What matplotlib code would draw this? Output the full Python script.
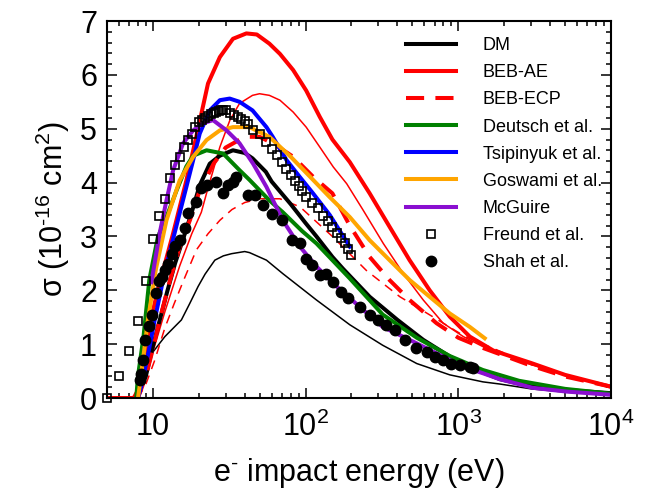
#!/usr/bin/env python3
"""
Electron impact ionisation cross sections: theory curves vs. measurements.
"""

import numpy as np
import matplotlib
matplotlib.use("Agg")
import matplotlib.pyplot as plt
from matplotlib.ticker import LogLocator, MultipleLocator, NullFormatter, FixedLocator, FixedFormatter

plt.rcParams['font.family'] = ['Liberation Sans', 'DejaVu Sans']
plt.rcParams['mathtext.fontset'] = 'custom'
plt.rcParams['mathtext.rm'] = 'Liberation Sans'
plt.rcParams['mathtext.it'] = 'Liberation Sans:italic'

# ---- data (energy in eV, cross section in 1e-16 cm^2) ----
dm_E = [7.8, 9.0, 10, 11, 12.5, 14, 16, 18, 20.3, 23.6, 27.5, 33.5, 40, 45, 55, 60, 80, 100,
        118, 150, 176, 263, 400, 590, 880, 1320, 1870, 3000, 5000, 10000]
dm_s = [0, 0.4, 0.95, 1.4, 2.0, 2.5, 3.0, 3.45, 3.95, 4.35, 4.5, 4.6, 4.55, 4.45, 4.2, 4.02, 3.6, 3.25,
        3.0, 2.62, 2.4, 1.88, 1.45, 1.08, 0.77, 0.52, 0.35, 0.22, 0.15, 0.09]

dm_thin_E = [7.8, 8.0, 8.9, 10, 12, 15.4, 17.5, 19.8, 22, 25.5, 29, 32.8, 40, 43, 55.5, 71, 118,
             195, 320, 535, 880, 1450, 1870, 3000, 5000, 10000]
dm_thin_s = [0, 0.09, 0.58, 0.85, 1.14, 1.45, 1.76, 2.07, 2.3, 2.56, 2.64, 2.68, 2.72, 2.7, 2.56, 2.31,
             1.82, 1.36, 0.98, 0.64, 0.43, 0.3, 0.26, 0.17, 0.11, 0.06]

beb_ae_E = [5, 7.5, 8.2, 9.0, 9.7, 11.0, 12.3, 13.6, 16.6, 19.8, 23, 27.5, 33.5, 41, 48, 58, 68, 83,
            101, 124, 150, 195, 263, 355, 480, 650, 880, 1190, 1700, 3000, 5000, 10000]
beb_ae_s = [0, 0, 0.2, 0.85, 1.45, 2.1, 2.6, 3.06, 4.04, 5.0, 5.84, 6.33, 6.67, 6.77, 6.75, 6.58,
            6.39, 6.09, 5.71, 5.22, 4.8, 4.38, 3.8, 3.18, 2.56, 2.0, 1.51, 1.14, 0.88, 0.65, 0.43, 0.21]

beb_ae_thin_E = [5, 7.5, 8.5, 10, 12, 15, 18, 20.8, 23, 25, 27.5, 32, 37, 45, 50, 58, 68, 83, 101,
                 124, 152, 186, 237, 323, 437, 590, 796, 1080, 1460, 3000, 5000, 10000]
beb_ae_thin_s = [0, 0, 0.3, 0.85, 1.6, 2.45, 3.05, 3.45, 3.9, 4.25, 4.66, 5.16, 5.47, 5.62, 5.65, 5.62,
                 5.53, 5.31, 5.03, 4.66, 4.29, 3.98, 3.5, 2.87, 2.31, 1.82, 1.39, 1.14, 0.95, 0.62,
                 0.43, 0.22]

beb_ecp_E = [8, 9, 10, 11.1, 13, 15, 17.5, 20, 25, 30, 40, 50, 61, 83, 112, 150, 195, 263, 355,
             480, 720, 1000, 1450, 3000, 5000, 10000]
beb_ecp_s = [0, 0.4, 0.9, 1.45, 2.2, 2.8, 3.3, 3.8, 4.35, 4.65, 4.85, 4.85, 4.73, 4.48, 4.11, 3.8,
             3.2, 2.62, 2.19, 1.82, 1.39, 1.12, 0.93, 0.6, 0.4, 0.21]

beb_ecp_thin_E = [8, 9, 10.3, 12, 13.8, 16, 19.3, 23, 27.5, 33, 40, 50, 68, 92, 150, 250, 415, 680,
                  1110, 1800, 3000, 5000, 10000]
beb_ecp_thin_s = [0, 0.25, 0.7, 1.3, 1.75, 2.2, 2.75, 3.05, 3.3, 3.5, 3.63, 3.7, 3.7, 3.55, 3.0, 2.37,
                  1.88, 1.51, 1.14, 0.89, 0.62, 0.42, 0.22]

deutsch_E = [7.8, 8.0, 8.7, 9.5, 10.8, 12.3, 14.3, 16.6, 18.4, 22.5, 28.9, 37, 43, 58, 71, 95, 118,
             195, 320, 535, 880, 1450, 2500, 5000, 10000]
deutsch_s = [0, 0.4, 1.14, 2.2, 2.99, 3.36, 3.85, 4.3, 4.5, 4.6, 4.54, 4.23, 4.05, 3.67, 3.45, 3.1,
             2.87, 2.22, 1.55, 1.12, 0.78, 0.52, 0.32, 0.17, 0.08]

tsipinyuk_E = [8.0, 8.4, 9.3, 10.3, 12, 14.6, 16.6, 18.4, 20.3, 23.6, 27.5, 31.9, 37, 45, 55.5, 61,
               75, 92, 112, 144, 195]
tsipinyuk_s = [0, 0.21, 0.8, 1.45, 2.35, 3.3, 3.92, 4.42, 4.91, 5.34, 5.53, 5.56, 5.5, 5.34, 5.03,
               4.85, 4.42, 4.1, 3.8, 3.4, 2.81]

goswami_E = [8.0, 8.2, 8.8, 9.3, 10.5, 12.3, 15, 18.4, 22.5, 27.5, 33.5, 43, 58, 80, 107, 144, 195,
             263, 355, 481, 650, 880, 1190, 1490]
goswami_s = [0, 0.21, 0.9, 1.45, 2.4, 3.3, 4.04, 4.48, 4.79, 4.97, 5.03, 5.03, 4.85, 4.48, 4.11, 3.73,
             3.36, 2.93, 2.56, 2.19, 1.88, 1.57, 1.32, 1.11]

mcguire_E = [9.8, 11.1, 12.3, 13.6, 15.8, 18.4, 21.3, 24.8, 30.4, 37, 45.4, 55.5, 71, 92, 118, 160,
             227, 320, 481, 720, 1080, 1450, 1870, 3070, 5100, 10000]
mcguire_s = [2.15, 3.06, 3.67, 4.23, 4.73, 4.97, 5.1, 5.16, 4.97, 4.73, 4.35, 3.92, 3.3, 2.81, 2.44,
             2.07, 1.69, 1.32, 1.08, 0.83, 0.58, 0.46, 0.35, 0.19, 0.12, 0.06]

freund_E = [5, 6, 7, 8, 9, 10, 11, 12, 13, 14, 15, 16, 17, 18, 19, 20, 21, 22, 23, 24, 25, 26, 27,
            28, 29, 30, 32, 34, 36, 38, 40, 42, 45, 50, 55, 60, 65, 70, 75, 80, 85, 90, 95, 100,
            110, 120, 130, 140, 150, 160, 170, 180, 190, 200]
freund_s = [0, 0.41, 0.88, 1.43, 2.17, 2.95, 3.38, 3.69, 4.09, 4.33, 4.48, 4.67, 4.8, 4.91, 5.03, 5.13,
            5.17, 5.2, 5.24, 5.27, 5.3, 5.31, 5.33, 5.34, 5.34, 5.34, 5.3, 5.26, 5.22, 5.18, 5.14, 5.08,
            4.98, 4.91, 4.75, 4.63, 4.51, 4.38, 4.26, 4.14, 4.03, 3.94, 3.85, 3.73, 3.63, 3.52, 3.38,
            3.28, 3.17, 3.07, 2.97, 2.87, 2.77, 2.65]

shah_E = [8.2, 8.4, 8.6, 8.9, 9.4, 9.9, 10.5, 11.0, 11.5, 12.0, 12.6, 13.3, 14.0, 15.0, 16.2, 17.0,
          19.2, 20.8, 22.5, 26, 29, 31, 33.5, 35.3, 42, 46.6, 52.7, 60, 70, 81, 92, 100, 110, 124,
          137, 152, 172, 190, 227, 263, 298, 338, 385, 446, 530, 620, 700, 795, 900, 1020, 1190, 1250]
shah_s = [0.33, 0.45, 0.70, 1.08, 1.34, 1.54, 1.95, 2.17, 2.25, 2.38, 2.48, 2.68, 2.83, 2.93, 3.15,
          3.44, 3.64, 3.9, 3.95, 4.01, 3.80, 3.95, 4.01, 4.11, 3.77, 3.77, 3.58, 3.42, 3.3, 2.93, 2.87,
          2.59, 2.47, 2.28, 2.31, 2.16, 1.97, 1.85, 1.69, 1.55, 1.45, 1.35, 1.26, 1.08, 0.92, 0.86,
          0.77, 0.70, 0.64, 0.61, 0.58, 0.55]

x_ticks = [10, 100, 1000, 10000]
x_labels = ['10', '$10^2$', '$10^3$', '$10^4$']

# ---- figure ----
fig = plt.figure(figsize=(6.51, 5.03), dpi=100)
ax = fig.add_axes([0.164, 0.2087, 0.7746, 0.7495])

THICK = 2.9
THIN = 1.1
purple = '#8a0fd0'

# thin curves first
ax.plot(dm_thin_E, dm_thin_s, color='black', lw=THIN)
ax.plot(beb_ae_thin_E, beb_ae_thin_s, color='red', lw=THIN)
ax.plot(beb_ecp_thin_E, beb_ecp_thin_s, color='red', lw=THIN, dashes=(6, 4.5))

# thick curves
ax.plot(dm_E, dm_s, color='black', lw=THICK, label='DM')
ax.plot(beb_ae_E, beb_ae_s, color='red', lw=THICK, label='BEB-AE')
ax.plot(beb_ecp_E, beb_ecp_s, color='red', lw=THICK, dashes=(4.5, 2.8), label='BEB-ECP')
ax.plot(deutsch_E, deutsch_s, color='#008000', lw=THICK, label='Deutsch et al.')
ax.plot(tsipinyuk_E, tsipinyuk_s, color='blue', lw=THICK, label='Tsipinyuk et al.')
ax.plot(goswami_E, goswami_s, color='orange', lw=THICK, label='Goswami et al.')
ax.plot(mcguire_E, mcguire_s, color=purple, lw=THICK, label='McGuire')

# measurements
ax.plot(freund_E, freund_s, ls='none', marker='s', ms=5.5, mfc='none', mec='black', mew=1.2,
        clip_on=False, label='Freund et al.', zorder=3)
ax.plot(shah_E, shah_s, ls='none', marker='o', ms=7.5, color='black', label='Shah et al.', zorder=4)

# axes
ax.set_xscale('log')
ax.set_xlim(5, 1e4)
ax.set_ylim(0, 7)

ax.xaxis.set_major_locator(FixedLocator(x_ticks))
ax.xaxis.set_major_formatter(FixedFormatter(x_labels))
ax.xaxis.set_minor_locator(LogLocator(base=10, subs=np.arange(2, 10)))
ax.xaxis.set_minor_formatter(NullFormatter())
ax.yaxis.set_major_locator(MultipleLocator(1))
ax.yaxis.set_minor_locator(MultipleLocator(0.2))

ax.tick_params(which='both', direction='in', top=True, right=True, width=1.1, labelsize=22)
ax.tick_params(which='major', length=7)
ax.tick_params(which='minor', length=3.5)
ax.tick_params(axis='x', which='major', pad=10)
ax.tick_params(axis='y', which='major', pad=7)
for sp in ax.spines.values():
    sp.set_linewidth(1.5)

ax.set_xlabel(r'e$^{\text{-}}$ impact energy (eV)', fontsize=22, labelpad=9)
ax.set_ylabel(r'σ (10$^{\text{-}16}$ cm$^{2}$)', fontsize=22, labelpad=6)

ax.legend(loc='upper left', bbox_to_anchor=(0.593, 0.957), frameon=False, fontsize=13,
          handlelength=2.8, handletextpad=1.45, labelspacing=0.56, borderpad=0,
          borderaxespad=0, numpoints=1)

fig.savefig('out.png', dpi=100)
